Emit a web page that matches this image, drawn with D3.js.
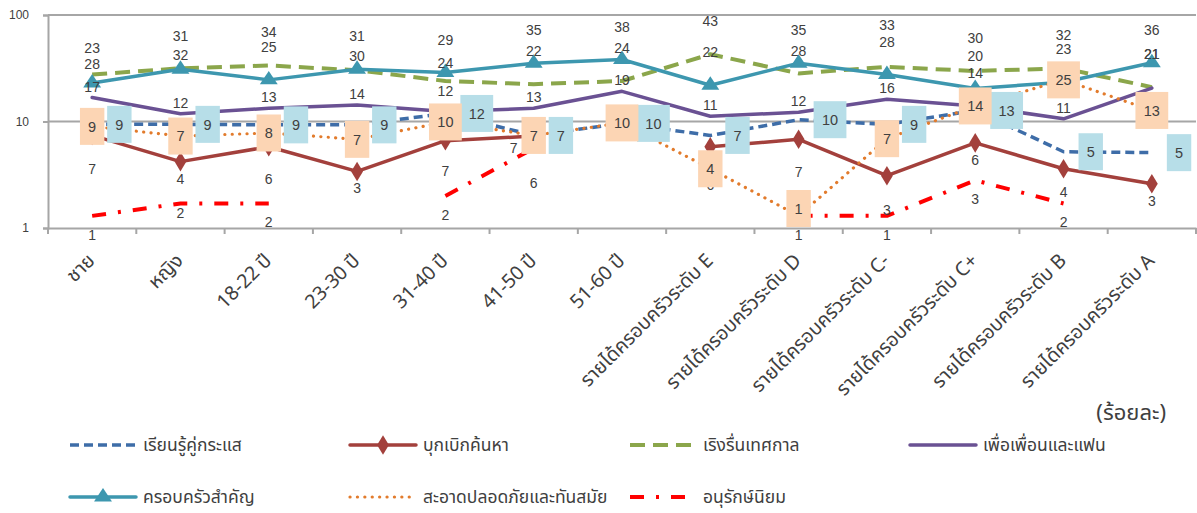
<!DOCTYPE html>
<html>
<head>
<meta charset="utf-8">
<script src="https://cdn.jsdelivr.net/npm/d3@7"></script>
<style>
  body { margin: 0; background: #fff; }
  svg { display: block; }
  text { font-family: "Liberation Sans", Arial, "Noto Sans", "DejaVu Sans", sans-serif; fill: #404040; }
</style>
</head>
<body>
<svg id="chart" width="1197" height="513"></svg>
<script>
// Categories along the x axis
const categories = [
  "ชาย", "หญิง", "18-22 ปี", "23-30 ปี", "31-40 ปี", "41-50 ปี", "51-60 ปี",
  "รายได้ครอบครัวระดับ E", "รายได้ครอบครัวระดับ D", "รายได้ครอบครัวระดับ C-",
  "รายได้ครอบครัวระดับ C+", "รายได้ครอบครัวระดับ B", "รายได้ครอบครัวระดับ A"
];

// Series names (legend order)
const seriesNames = [
  "เรียนรู้คู่กระแส", "บุกเบิกค้นหา", "เริงรื่นเทศกาล", "เพื่อเพื่อนและแฟน",
  "ครอบครัวสำคัญ", "สะอาดปลอดภัยและทันสมัย", "อนุรักษ์นิยม"
];

// Percent values per category (null = no value)
const learnTrend   = [9.4, 9.4, 9.3, 9.3, 11.9, 7.4, 9.6, 7.4, 10.4, 9.4, 12.7, 5.2, 5.1];
const explore      = [7.4, 4.2, 5.8, 3.4, 6.6, 7.3, null, 5.8, 6.8, 3.1, 6.3, 3.6, 2.6];
const festival     = [27.6, 31.6, 33.6, 30.3, 24, 22.4, 24, 42.8, 28.3, 32.6, 29.8, 31.6, 21];
const friends      = [16.8, 11.8, 13.3, 14.3, 12.4, 13.3, 19.2, 11.2, 12.2, 16.2, 14, 10.6, 20.6];
const family       = [23, 31, 24.6, 31, 28.8, 35.2, 38.2, 21.9, 35.3, 27.6, 20.4, 23.4, 35.6];
const cleanModern  = [9.0, 7.3, 7.8, 6.8, 9.9, 7.4, 9.7, 3.6, 1.3, 6.9, 14, 24.6, 12.7];
const conservative = [1.3, 1.7, 1.7, null, 2.0, 5.6, null, null, 1.3, 1.3, 2.8, 1.7, null];

// Log axis ticks
const yTicks = [1, 10, 100];
const unitLabel = "(ร้อยละ)";

// ---- layout ----
const svg = d3.select("#chart");
const plot = { left: 48, right: 1196, top: 15, bottom: 228 };
const thaiFont = "Tahoma, 'Noto Sans Thai', 'Noto Sans Thai UI', 'Loma', 'Garuda', 'Kinnari', 'Norasi', 'Waree', 'Liberation Sans', sans-serif";

const x = d3.scaleBand().domain(categories).range([plot.left, plot.right]).padding(0);
const y = d3.scaleLog().domain([1, 100]).range([plot.bottom, plot.top]);
const cx = c => x(c) + x.bandwidth() / 2;

// Series styles and label placement
const series = [
  { name: seriesNames[0], values: learnTrend, color: "#3E6DA8", width: 3.5, dash: "9,5", cap: "butt",
    label: { type: "box", fill: "#B7DEE8", align: "right" } },
  { name: seriesNames[1], values: explore, color: "#A3403C", width: 3.5, dash: null, cap: "round", marker: "diamond",
    label: { type: "text", dy: 17, shift: { 0: [0, 34], 2: [0, 32], 4: [0, 30], 5: [-20, 12], 7: [0, 38], 8: [0, 33], 9: [0, 34], 11: [0, 23] } } },
  { name: seriesNames[2], values: festival, color: "#8BA64B", width: 4, dash: "15,8", cap: "butt",
    label: { type: "text", dy: -33, shift: { 0: [0, -11], 1: [0, -13], 3: [0, -14], 4: [0, -18], 8: [0, -22], 9: [0, -42] } } },
  { name: seriesNames[3], values: friends, color: "#6A5193", width: 3.5, dash: null, cap: "round",
    label: { type: "text", dy: -11, shift: { 4: [0, -21], 10: [0, -33], 12: [0, -34] } } },
  { name: seriesNames[4], values: family, color: "#3D97AF", width: 3.5, dash: null, cap: "round", marker: "triangle",
    label: { type: "text", dy: -33, shift: { 0: [0, -35] } } },
  { name: seriesNames[5], values: cleanModern, color: "#E27B2C", width: 3.2, dash: "0.1,7.3", cap: "round",
    label: { type: "box", fill: "#FCD5B4", align: "center" } },
  { name: seriesNames[6], values: conservative, color: "#FF0000", width: 4, dash: "14,12,3,12", cap: "butt",
    label: { type: "text", dy: 19, shift: { 1: [0, 10], 5: [0, 35] } } }
];

// ---- grid and axes ----
const grid = svg.append("g");
grid.selectAll("line.grid")
  .data(yTicks.filter(t => t > 1))
  .join("line")
  .attr("x1", plot.left).attr("x2", plot.right)
  .attr("y1", d => y(d)).attr("y2", d => y(d))
  .attr("stroke", "#A6A6A6").attr("stroke-width", 2);

const yAxis = svg.append("g")
  .attr("transform", `translate(${plot.left},0)`)
  .call(d3.axisLeft(y).tickValues(yTicks).tickFormat(d3.format("d")).tickSize(5).tickPadding(14));
yAxis.select(".domain").attr("stroke", "#A6A6A6").attr("stroke-width", 2);
yAxis.selectAll(".tick line").attr("stroke", "#A6A6A6").attr("stroke-width", 2);
yAxis.selectAll(".tick text")
  .style("font-family", "'Liberation Sans', Arial, sans-serif")
  .style("font-size", "12px").attr("fill", "#404040");

const xAxis = svg.append("g")
  .attr("transform", `translate(0,${plot.bottom})`)
  .call(d3.axisBottom(x).tickSize(0).tickFormat(""));
xAxis.select(".domain").attr("stroke", "#A6A6A6").attr("stroke-width", 2);

// tick marks on category boundaries
const bounds = d3.range(categories.length + 1).map(i => plot.left + i * x.step());
svg.append("g").selectAll("line")
  .data(bounds)
  .join("line")
  .attr("x1", d => d).attr("x2", d => d)
  .attr("y1", plot.bottom).attr("y2", plot.bottom + 6)
  .attr("stroke", "#A6A6A6").attr("stroke-width", 2);

// category labels, rotated
svg.append("g").selectAll("text")
  .data(categories)
  .join("text")
  .attr("transform", d => `translate(${cx(d) - 1},${plot.bottom + 29}) rotate(-45)`)
  .attr("text-anchor", "end")
  .attr("dy", "0.35em")
  .style("font-family", thaiFont)
  .style("font-size", "19.5px")
  .text(d => d);

// ---- series lines ----
const line = d3.line()
  .defined(d => d.v != null)
  .x(d => cx(d.c))
  .y(d => y(d.v));

const diamond = d3.symbol().type(d3.symbolDiamond).size(110);
const triangle = d3.symbol().type(d3.symbolTriangle).size(105);

series.forEach(s => {
  const pts = categories.map((c, i) => ({ c, v: s.values[i], i }));
  svg.append("path")
    .datum(pts)
    .attr("d", line)
    .attr("fill", "none")
    .attr("stroke", s.color)
    .attr("stroke-width", s.width)
    .attr("stroke-linecap", s.cap)
    .attr("stroke-linejoin", "round")
    .attr("stroke-dasharray", s.dash);
  if (s.marker) {
    svg.append("g").selectAll("path")
      .data(pts.filter(d => d.v != null))
      .join("path")
      .attr("transform", d => `translate(${cx(d.c)},${y(d.v)})` + (s.marker === "diamond" ? " scale(1.05,1)" : " scale(1.15,1)"))
      .attr("d", s.marker === "diamond" ? diamond : triangle)
      .attr("fill", s.color);
  }
});

// ---- data labels ----
const fmt = v => String(Math.round(v));
const labelLayer = svg.append("g");
series.forEach(s => {
  const pts = categories.map((c, i) => ({ c, v: s.values[i], i })).filter(d => d.v != null);
  if (s.label.type === "box") {
    const g = labelLayer.append("g").selectAll("g")
      .data(pts)
      .join("g");
    g.each(function (d) {
      const t = fmt(d.v);
      const w = t.length * 8.4 + 16;
      const h = 37;
      const px = cx(d.c);
      let left = s.label.align === "right" ? px + 15 : px - w / 2;
      let top = y(d.v) - h / 2;
      top = Math.max(plot.top + 1, Math.min(plot.bottom - 1 - h, top));
      const sel = d3.select(this);
      sel.append("rect")
        .attr("x", left).attr("y", top).attr("width", w).attr("height", h)
        .attr("fill", s.label.fill);
      sel.append("text")
        .attr("x", left + w / 2).attr("y", top + h / 2)
        .attr("dy", "0.36em")
        .attr("text-anchor", "middle")
        .style("font-size", "14.5px")
        .text(t);
    });
  } else {
    labelLayer.append("g").selectAll("text")
      .data(pts)
      .join("text")
      .attr("x", d => cx(d.c) + ((s.label.shift[d.i] || [0, s.label.dy])[0]))
      .attr("y", d => y(d.v) + ((s.label.shift[d.i] || [0, s.label.dy])[1]))
      .attr("dy", "0.36em")
      .attr("text-anchor", "middle")
      .style("font-size", "14px")
      .text(d => fmt(d.v));
  }
});

// unit label
svg.append("text")
  .attr("x", 1166).attr("y", 412)
  .attr("text-anchor", "end")
  .attr("dy", "0.35em")
  .style("font-family", thaiFont)
  .style("font-size", "22px")
  .text(unitLabel);

// ---- legend ----
const legendPos = [
  [70, 445], [350, 445], [630, 445], [910, 445],
  [70, 497], [350, 497], [630, 497]
];
const legend = svg.append("g");
series.forEach((s, i) => {
  const [lx, ly] = legendPos[i];
  const g = legend.append("g").attr("transform", `translate(${lx},${ly})`);
  g.append("line")
    .attr("x1", 0).attr("x2", 66).attr("y1", 0).attr("y2", 0)
    .attr("stroke", s.color).attr("stroke-width", s.width)
    .attr("stroke-linecap", s.cap)
    .attr("stroke-dasharray", s.dash);
  if (s.marker) {
    g.append("path")
      .attr("transform", `translate(33,0)` + (s.marker === "diamond" ? " scale(1.05,1)" : " scale(1.15,1)"))
      .attr("d", s.marker === "diamond" ? diamond : triangle)
      .attr("fill", s.color);
  }
  g.append("text")
    .attr("x", 73).attr("y", 0).attr("dy", "0.35em")
    .style("font-family", thaiFont)
    .style("font-size", "17.5px")
    .text(s.name);
});
</script>
</body>
</html>
